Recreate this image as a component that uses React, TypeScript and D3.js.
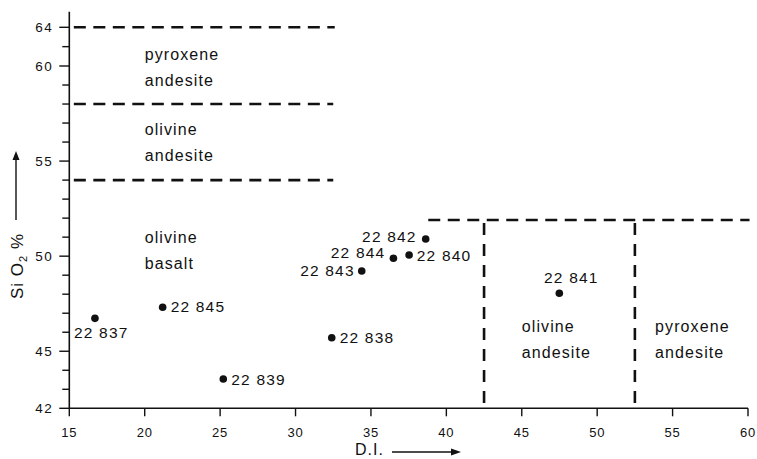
import React from "react";
import * as d3 from "d3";

// ---- data ----
const samples = ["22 837", "22 845", "22 839", "22 838", "22 843", "22 844", "22 840", "22 842", "22 841"];
const diValues = [16.7, 21.19, 25.21, 32.4, 34.39, 36.49, 37.53, 38.63, 47.49];
const sio2Values = [46.73, 47.31, 43.54, 45.71, 49.22, 49.89, 50.06, 50.9, 48.05];
const labelPlacement = ["belowLeft", "right", "right", "right", "left", "aboveLeft", "right", "left", "above"];

const xTicks = [15, 20, 25, 30, 35, 40, 45, 50, 55, 60];
const yMajorTicks = [42, 45, 50, 55, 60, 64];
const yMinorTicks = [43, 44, 46, 47, 48, 49, 51, 52, 53, 54, 56, 57, 58, 59, 62];

// boundary lines in data units
const hBoundaries = [
  { y: 64, x0: 15.3, x1: 32.6 },
  { y: 58, x0: 15.3, x1: 32.5 },
  { y: 54, x0: 15.3, x1: 32.5 },
  { y: 51.9, x0: 38.8, x1: 60.1 },
];
const vBoundaries = [
  { x: 42.5, y0: 42, y1: 51.75 },
  { x: 52.5, y0: 42, y1: 51.75 },
];
const regionNames = [
  { lines: ["pyroxene", "andesite"], x: 20, y: 60.62 },
  { lines: ["olivine", "andesite"], x: 20, y: 56.37 },
  { lines: ["olivine", "basalt"], x: 20, y: 50.69 },
  { lines: ["olivine", "andesite"], x: 45.0, y: 46.0 },
  { lines: ["pyroxene", "andesite"], x: 53.84, y: 46.0 },
];

const W = 757;
const H = 459;
const FONT = "'Liberation Sans', Arial, sans-serif";

export default function App() {
  const left = 69.3;
  const right = 748;
  const x = d3.scaleLinear().domain([15, 60]).range([left, right]);
  // broken (compressed) scale above 60
  const y = d3.scaleLinear().domain([42, 60, 64]).range([408.3, 66, 27.3]);
  const yTop = y(65.6);
  const y0 = y(42);

  const offsets: Record<string, { dx: number; dy: number; anchor: string }> = {
    right: { dx: 8, dy: 5, anchor: "start" },
    left: { dx: -7, dy: 5, anchor: "end" },
    aboveLeft: { dx: -8, dy: 0, anchor: "end" },
    belowLeft: { dx: -21, dy: 20, anchor: "start" },
    above: { dx: 12, dy: -10, anchor: "middle" },
  };
  const custom: Record<number, { dx: number; dy: number }> = {
    2: { dx: 8, dy: 6 },
    6: { dx: 7.7, dy: 6 },
    7: { dx: -9, dy: 3 },
  };

  return (
    <svg
      width={W}
      height={H}
      style={{ position: "absolute", left: 0, top: 0, background: "#fff" }}
      fontFamily={FONT}
    >
      <rect width={W} height={H} fill="#fff" />
      {/* axes */}
      <line x1={left} x2={left} y1={yTop} y2={y0} stroke="#111" strokeWidth={1.6} />
      <line x1={left} x2={right} y1={y0} y2={y0} stroke="#111" strokeWidth={1.6} />
      {yMajorTicks.map((t) => (
        <g key={"ym" + t}>
          <line x1={left - 10} x2={left} y1={y(t)} y2={y(t)} stroke="#111" strokeWidth={1.4} />
          <text x={left - 16} y={y(t) + 5} fontSize={13.5} letterSpacing={1.5} textAnchor="end" fill="#111">
            {t}
          </text>
        </g>
      ))}
      {yMinorTicks.map((t) => (
        <line key={"yn" + t} x1={left - 7} x2={left} y1={y(t)} y2={y(t)} stroke="#111" strokeWidth={1.4} />
      ))}
      {xTicks.map((t) => (
        <g key={"x" + t}>
          <line x1={x(t)} x2={x(t)} y1={y0} y2={y0 + 8} stroke="#111" strokeWidth={1.4} />
          <text x={x(t)} y={y0 + 29} fontSize={13} letterSpacing={0.8} textAnchor="middle" fill="#111">
            {t}
          </text>
        </g>
      ))}

      {/* axis titles */}
      <g transform={`translate(23,266) rotate(-90)`}>
        <text x={0} y={0} fontSize={17} letterSpacing={1} textAnchor="middle" fill="#111">
          Si O<tspan fontSize={11} dy={4}>2</tspan>
          <tspan dy={-4}> %</tspan>
        </text>
      </g>
      <line x1={16} x2={16} y1={220} y2={158} stroke="#111" strokeWidth={1.4} />
      <path d="M16,151 L12.5,160 L19.5,160 Z" fill="#111" />

      <text x={355} y={455} fontSize={16} letterSpacing={1} fill="#111">
        D.I.
      </text>
      <line x1={392} x2={452} y1={452} y2={452} stroke="#111" strokeWidth={1.4} />
      <path d="M461,452 L451,448.5 L451,455.5 Z" fill="#111" />

      {/* boundaries */}
      {hBoundaries.map((b, i) => (
        <line
          key={"hb" + i}
          x1={x(b.x0)}
          x2={x(b.x1)}
          y1={y(b.y)}
          y2={y(b.y)}
          stroke="#111"
          strokeWidth={2.6}
          strokeDasharray="12 7.5"
        />
      ))}
      {vBoundaries.map((b, i) => (
        <line
          key={"vb" + i}
          x1={x(b.x)}
          x2={x(b.x)}
          y1={y(b.y1)}
          y2={y(b.y0)}
          stroke="#111"
          strokeWidth={2.6}
          strokeDasharray="12 9"
        />
      ))}

      {/* region names */}
      {regionNames.map((r, i) => (
        <text key={"rn" + i} x={x(r.x)} y={y(r.y)} fontSize={16} letterSpacing={1.1} fill="#111">
          {r.lines.map((l, j) => (
            <tspan key={j} x={x(r.x)} dy={j === 0 ? 0 : 26}>
              {l}
            </tspan>
          ))}
        </text>
      ))}

      {/* points */}
      {samples.map((s, i) => {
        const px = x(diValues[i]);
        const py = y(sio2Values[i]);
        const o = offsets[labelPlacement[i]];
        const c = custom[i] || {};
        const dx = c.dx ?? o.dx;
        const dy = c.dy ?? o.dy;
        return (
          <g key={s}>
            <circle cx={px} cy={py} r={3.8} fill="#111" />
            <text x={px + dx} y={py + dy} fontSize={15.5} letterSpacing={1.2} textAnchor={o.anchor} fill="#111">
              {s}
            </text>
          </g>
        );
      })}
    </svg>
  );
}
